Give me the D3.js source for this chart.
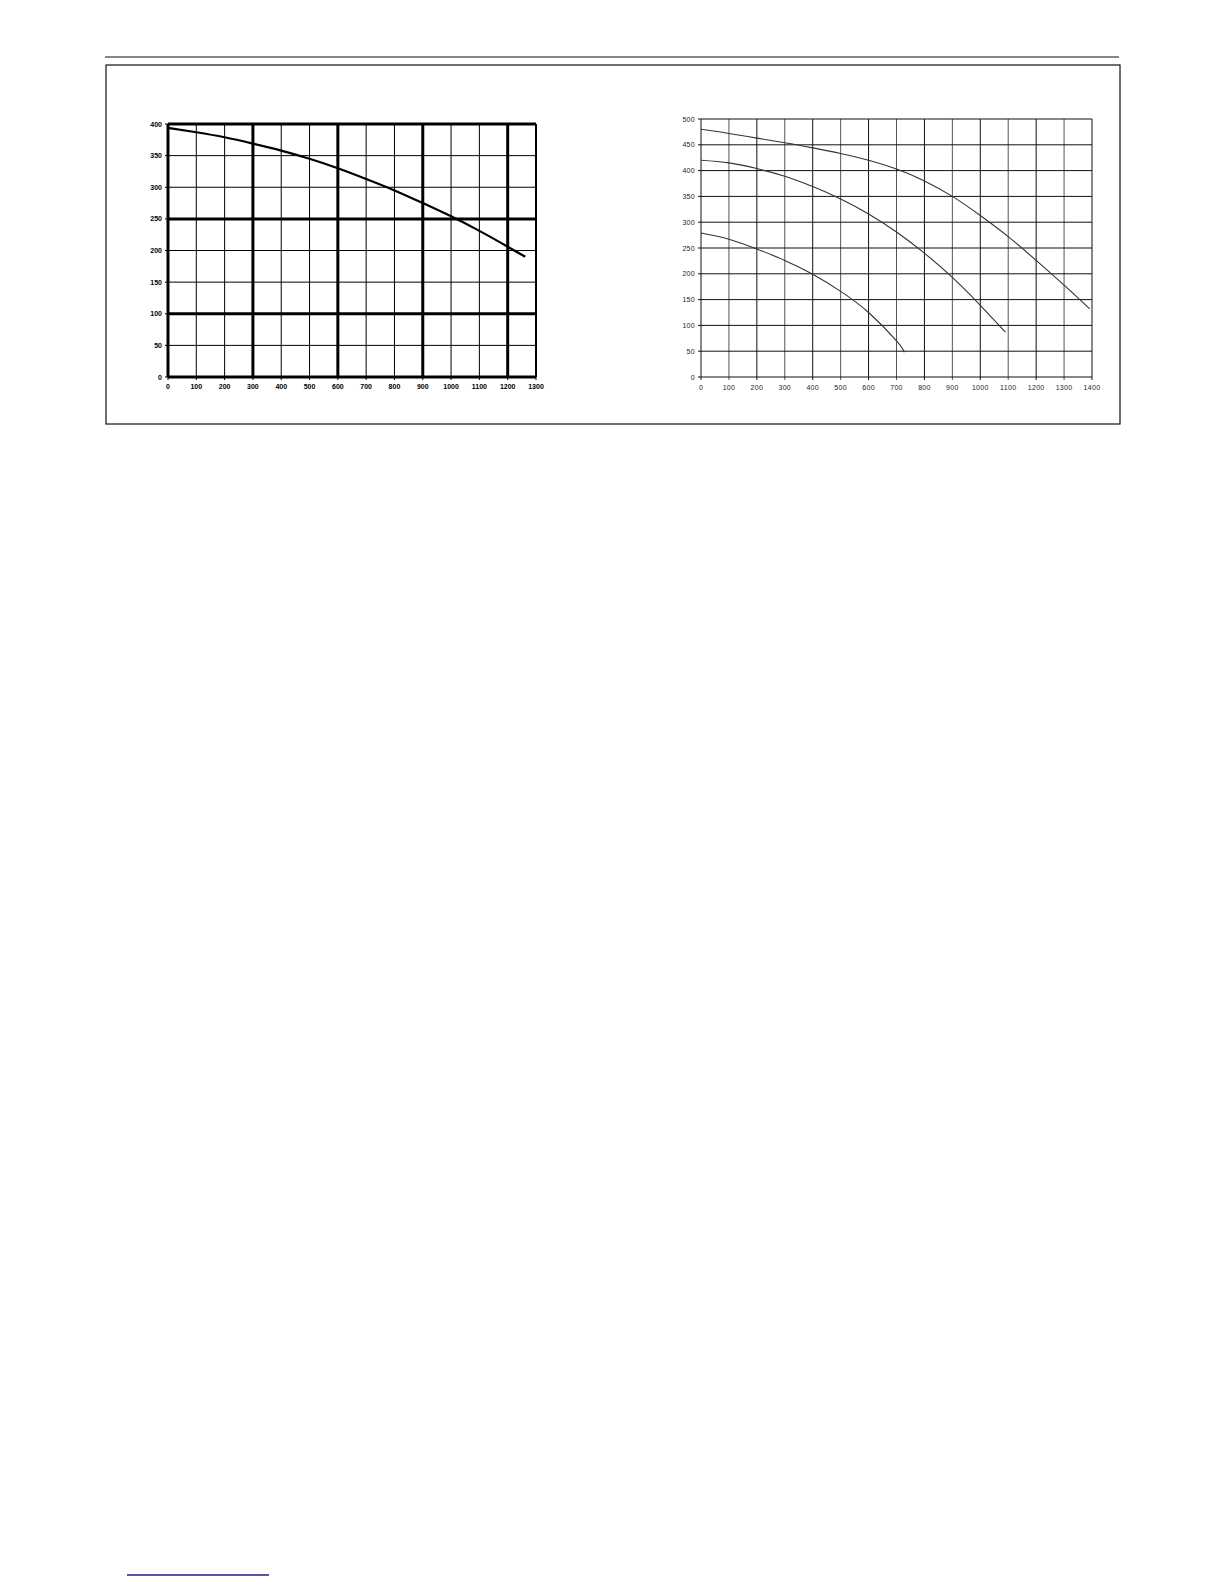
<!DOCTYPE html>
<html>
<head>
<meta charset="utf-8">
<script src="https://cdn.jsdelivr.net/npm/d3@7"></script>
<style>
	body { margin: 0; background: #fff; }
	svg { display: block; }
</style>
</head>
<body>
<div id="page"></div>
<script>
// left chart: single pump curve
var leftTicksX = [0, 100, 200, 300, 400, 500, 600, 700, 800, 900, 1000, 1100, 1200, 1300];
var leftTicksY = [0, 50, 100, 150, 200, 250, 300, 350, 400];
var leftMajorX = [0, 300, 600, 900, 1200];
var leftMajorY = [0, 100, 250, 400];
var leftFlow = [0, 100, 200, 300, 400, 500, 600, 700, 800, 900, 1000, 1100, 1200, 1262];
var leftHead = [394, 387, 379, 369, 358, 345, 330, 313, 295, 275, 254, 231, 206, 190];

// right chart: three curves
var rightTicksX = [0, 100, 200, 300, 400, 500, 600, 700, 800, 900, 1000, 1100, 1200, 1300, 1400];
var rightTicksY = [0, 50, 100, 150, 200, 250, 300, 350, 400, 450, 500];
var curveAFlow = [0, 100, 200, 300, 400, 500, 600, 700, 800, 900, 1000, 1100, 1200, 1300, 1392];
var curveAHead = [480, 472, 463, 454, 444, 433, 420, 403, 380, 350, 313, 272, 226, 178, 132];
var curveBFlow = [0, 100, 200, 300, 400, 500, 600, 700, 800, 900, 1000, 1090];
var curveBHead = [420, 415, 404, 389, 369, 345, 316, 281, 240, 193, 139, 87];
var curveCFlow = [0, 100, 200, 300, 400, 500, 600, 700, 728];
var curveCHead = [279, 267, 248, 226, 199, 166, 125, 70, 48];

var W = 1224, H = 1584;

var svg = d3.select("#page")
	.append("svg")
	.attr("width", W)
	.attr("height", H);

// page furniture
svg.append("line")
	.attr("x1", 105).attr("x2", 1119)
	.attr("y1", 57).attr("y2", 57)
	.attr("stroke", "#111").attr("stroke-width", 1.2);
svg.append("rect")
	.attr("x", 106).attr("y", 65)
	.attr("width", 1014).attr("height", 359)
	.attr("fill", "none")
	.attr("stroke", "#111").attr("stroke-width", 1.2);
svg.append("line")
	.attr("x1", 127).attr("x2", 269)
	.attr("y1", 1575).attr("y2", 1575)
	.attr("stroke", "#1c1c80").attr("stroke-width", 1.3);

var zip = function (xs, ys) {
	return xs.map(function (x, i) { return [x, ys[i]]; });
};

var drawLeft = function () {
	var x = d3.scaleLinear().domain([0, 1300]).range([168, 536]);
	var y = d3.scaleLinear().domain([0, 400]).range([377, 124]);
	var g = svg.append("g").attr("class", "left");

	g.selectAll("line.vgrid")
		.data(leftTicksX)
		.enter().append("line")
		.attr("class", "vgrid")
		.attr("x1", function (d) { return x(d); })
		.attr("x2", function (d) { return x(d); })
		.attr("y1", y(400)).attr("y2", y(0))
		.attr("stroke", "#000")
		.attr("stroke-width", function (d) {
			if (leftMajorX.indexOf(d) >= 0) return 3;
			return d == 1300 ? 2 : 1;
		});

	g.selectAll("line.hgrid")
		.data(leftTicksY)
		.enter().append("line")
		.attr("class", "hgrid")
		.attr("x1", x(0)).attr("x2", x(1300))
		.attr("y1", function (d) { return y(d); })
		.attr("y2", function (d) { return y(d); })
		.attr("stroke", "#000")
		.attr("stroke-width", function (d) { return leftMajorY.indexOf(d) >= 0 ? 3 : 1; });

	// tick marks
	g.selectAll("line.ytick")
		.data(leftTicksY)
		.enter().append("line")
		.attr("class", "ytick")
		.attr("x1", x(0) - 3).attr("x2", x(0))
		.attr("y1", function (d) { return y(d); })
		.attr("y2", function (d) { return y(d); })
		.attr("stroke", "#000").attr("stroke-width", 1);
	g.selectAll("line.xtick")
		.data(leftTicksX)
		.enter().append("line")
		.attr("class", "xtick")
		.attr("x1", function (d) { return x(d); })
		.attr("x2", function (d) { return x(d); })
		.attr("y1", y(0)).attr("y2", y(0) + 3)
		.attr("stroke", "#000").attr("stroke-width", 1);

	g.selectAll("text.ylab")
		.data(leftTicksY)
		.enter().append("text")
		.attr("class", "ylab")
		.attr("x", x(0) - 6)
		.attr("y", function (d) { return y(d) + 2.5; })
		.attr("text-anchor", "end")
		.attr("font-family", "Liberation Sans, Arial, sans-serif")
		.attr("font-weight", "bold")
		.attr("font-size", 7)
		.text(function (d) { return d; });

	g.selectAll("text.xlab")
		.data(leftTicksX)
		.enter().append("text")
		.attr("class", "xlab")
		.attr("x", function (d) { return x(d); })
		.attr("y", y(0) + 11.5)
		.attr("text-anchor", "middle")
		.attr("font-family", "Liberation Sans, Arial, sans-serif")
		.attr("font-weight", "bold")
		.attr("font-size", 7)
		.text(function (d) { return d; });

	var line = d3.line()
		.x(function (d) { return x(d[0]); })
		.y(function (d) { return y(d[1]); })
		.curve(d3.curveNatural);

	g.append("path")
		.datum(zip(leftFlow, leftHead))
		.attr("d", line)
		.attr("fill", "none")
		.attr("stroke", "#000")
		.attr("stroke-width", 2.2);
};

var drawRight = function () {
	var x = d3.scaleLinear().domain([0, 1400]).range([701, 1092]);
	var y = d3.scaleLinear().domain([0, 500]).range([377, 119]);
	var g = svg.append("g").attr("class", "right");

	g.selectAll("line.vgrid")
		.data(rightTicksX)
		.enter().append("line")
		.attr("class", "vgrid")
		.attr("x1", function (d) { return x(d); })
		.attr("x2", function (d) { return x(d); })
		.attr("y1", y(500)).attr("y2", y(0) + 3)
		.attr("stroke", function (d) { return (d / 100) % 2 == 0 ? "#111" : "#555"; })
		.attr("stroke-width", 1);

	g.selectAll("line.hgrid")
		.data(rightTicksY)
		.enter().append("line")
		.attr("class", "hgrid")
		.attr("x1", x(0) - 3).attr("x2", x(1400))
		.attr("y1", function (d) { return y(d); })
		.attr("y2", function (d) { return y(d); })
		.attr("stroke", "#111")
		.attr("stroke-width", 1);

	g.selectAll("text.ylab")
		.data(rightTicksY)
		.enter().append("text")
		.attr("class", "ylab")
		.attr("x", x(0) - 6)
		.attr("y", function (d) { return y(d) + 2.5; })
		.attr("text-anchor", "end")
		.attr("font-family", "Liberation Sans, Arial, sans-serif")
		.attr("font-size", 7)
		.attr("fill", "#222")
		.attr("letter-spacing", 0.3)
		.text(function (d) { return d; });

	g.selectAll("text.xlab")
		.data(rightTicksX)
		.enter().append("text")
		.attr("class", "xlab")
		.attr("x", function (d) { return x(d); })
		.attr("y", y(0) + 12.5)
		.attr("text-anchor", "middle")
		.attr("font-family", "Liberation Sans, Arial, sans-serif")
		.attr("font-size", 7)
		.attr("fill", "#222")
		.attr("letter-spacing", 0.3)
		.text(function (d) { return d; });

	var line = d3.line()
		.x(function (d) { return x(d[0]); })
		.y(function (d) { return y(d[1]); })
		.curve(d3.curveNatural);

	var curves = [
		zip(curveAFlow, curveAHead),
		zip(curveBFlow, curveBHead),
		zip(curveCFlow, curveCHead)
	];
	g.selectAll("path.curve")
		.data(curves)
		.enter().append("path")
		.attr("class", "curve")
		.attr("d", line)
		.attr("fill", "none")
		.attr("stroke", "#333")
		.attr("stroke-width", 1.1);
};

drawLeft();
drawRight();
</script>
</body>
</html>
